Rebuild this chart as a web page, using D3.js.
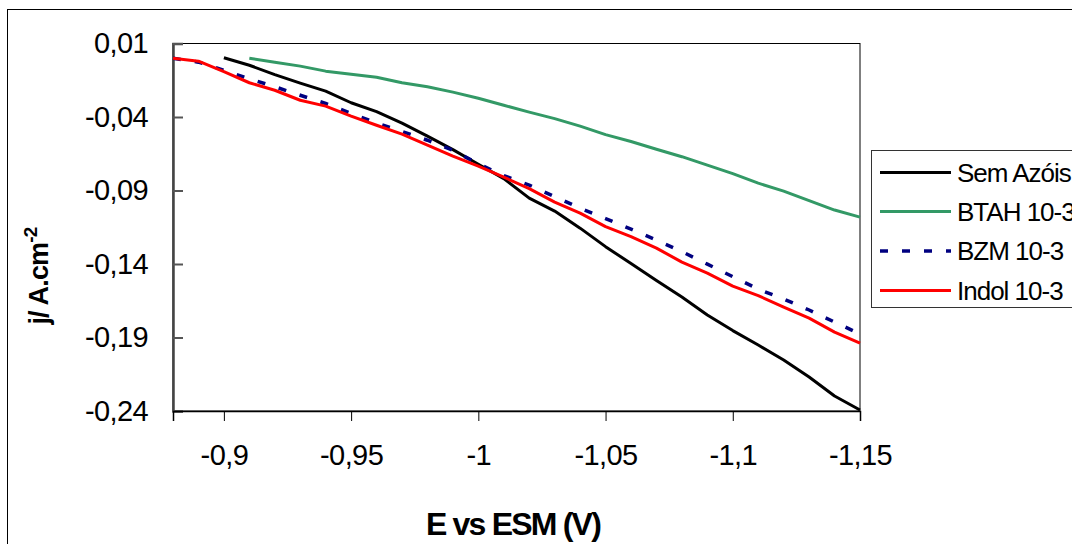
<!DOCTYPE html>
<html>
<head>
<meta charset="utf-8">
<script src="https://cdn.jsdelivr.net/npm/d3@7"></script>
<style>
  html, body { margin: 0; padding: 0; background: #fff; }
  svg { display: block; }
  text { font-family: "Liberation Sans", Arial, sans-serif; }
</style>
</head>
<body>
<svg id="chart" width="1072" height="544"></svg>
<script>
// ---- data ----
const potentials = [-0.88, -0.89, -0.90, -0.91, -0.92, -0.93, -0.94, -0.95, -0.96, -0.97,
  -0.98, -0.99, -1.00, -1.01, -1.02, -1.03, -1.04, -1.05, -1.06, -1.07,
  -1.08, -1.09, -1.10, -1.11, -1.12, -1.13, -1.14, -1.15];
const semAzois = [null, null, 0.0003, -0.0048, -0.0112, -0.0170, -0.0224, -0.0303, -0.0364, -0.0442,
  -0.0530, -0.0622, -0.0721, -0.0819, -0.0952, -0.1040, -0.1156, -0.1282, -0.1397, -0.1513,
  -0.1625, -0.1747, -0.1853, -0.1951, -0.2053, -0.2169, -0.2298, -0.2393];
const btah = [null, null, null, 0.0000, -0.0027, -0.0054, -0.0088, -0.0109, -0.0129, -0.0167,
  -0.0194, -0.0231, -0.0272, -0.0320, -0.0367, -0.0411, -0.0462, -0.0520, -0.0567, -0.0619,
  -0.0670, -0.0727, -0.0785, -0.0850, -0.0904, -0.0969, -0.1033, -0.1081];
const bzm = [0.0000, -0.0027, -0.0082, -0.0140, -0.0194, -0.0252, -0.0308, -0.0376, -0.0440, -0.0498,
  -0.0558, -0.0627, -0.0718, -0.0799, -0.0863, -0.0942, -0.1020, -0.1091, -0.1163, -0.1237,
  -0.1316, -0.1401, -0.1486, -0.1571, -0.1638, -0.1713, -0.1795, -0.1876];
const indol = [0.0000, -0.0020, -0.0092, -0.0167, -0.0218, -0.0286, -0.0326, -0.0394, -0.0456, -0.0517,
  -0.0591, -0.0666, -0.0734, -0.0809, -0.0887, -0.0979, -0.1054, -0.1146, -0.1214, -0.1292,
  -0.1387, -0.1462, -0.1550, -0.1615, -0.1693, -0.1768, -0.1863, -0.1938];
const seriesNames = ["Sem Azóis", "BTAH 10-3", "BZM 10-3", "Indol 10-3"];
const xTicks = [-0.9, -0.95, -1, -1.05, -1.1, -1.15];
const yTicks = [0.01, -0.04, -0.09, -0.14, -0.19, -0.24];
const xTitle = "E vs ESM (V)";

// ---- layout ----
const svg = d3.select("#chart");
const plot = { left: 173, right: 860, top: 43.5, bottom: 411 };
const x = d3.scaleLinear().domain([-0.88, -1.15]).range([plot.left, plot.right]);
const y = d3.scaleLinear().domain([0.01, -0.24]).range([plot.top, plot.bottom]);
const fmt = v => String(v).replace(".", ",");
const FONT = "'Liberation Sans', Arial, sans-serif";

// outer chart frame (extends beyond the visible area)
svg.append("rect").attr("x", 7.5).attr("y", 9.5).attr("width", 1100).attr("height", 600)
  .attr("fill", "#fff").attr("stroke", "#000").attr("stroke-width", 1);

// plot area border
svg.append("rect").attr("x", plot.left).attr("y", plot.top)
  .attr("width", plot.right - plot.left).attr("height", plot.bottom - plot.top)
  .attr("fill", "#fff").attr("stroke", "#000").attr("stroke-width", 1);

// axes
const yAxis = d3.axisLeft(y).tickValues(yTicks).tickFormat(fmt).tickSize(-10).tickPadding(25);
const gy = svg.append("g").attr("transform", `translate(${plot.left},0)`).call(yAxis);
gy.select(".domain").attr("stroke", "#444").attr("stroke-width", 2.5);
gy.selectAll(".tick line").attr("stroke", "#555").attr("stroke-width", 2);
gy.selectAll(".tick text").attr("font-size", 29).attr("fill", "#000")
  .attr("font-family", FONT).attr("letter-spacing", -0.6);

const xAxis = d3.axisBottom(x).tickValues(xTicks).tickFormat(fmt).tickSize(10).tickPadding(23);
const gx = svg.append("g").attr("transform", `translate(0,${plot.bottom})`).call(xAxis);
gx.select(".domain").attr("stroke", "#000").attr("stroke-width", 1.5);
gx.selectAll(".tick line").attr("stroke", "#000").attr("stroke-width", 1);
gx.selectAll(".tick text").attr("font-size", 29).attr("fill", "#000")
  .attr("font-family", FONT).attr("letter-spacing", -0.6);

// axis titles
svg.append("text").attr("x", 513).attr("y", 535).attr("text-anchor", "middle")
  .attr("font-size", 32).attr("font-weight", "bold").attr("letter-spacing", -1.8)
  .text(xTitle);
const yt = svg.append("text").attr("transform", "translate(48,276) rotate(-90)")
  .attr("text-anchor", "middle").attr("font-size", 27).attr("font-weight", "bold")
  .attr("letter-spacing", -0.8);
yt.append("tspan").text("j/ A.cm");
yt.append("tspan").attr("dy", -11).attr("font-size", 19).text("-2");

// series
const series = [
  { name: seriesNames[0], values: semAzois, color: "#000000", dash: null, width: 3 },
  { name: seriesNames[1], values: btah, color: "#339966", dash: null, width: 3 },
  { name: seriesNames[2], values: bzm, color: "#000080", dash: "8,14", width: 3.5 },
  { name: seriesNames[3], values: indol, color: "#ff0000", dash: null, width: 3 }
];
const line = d3.line().defined(d => d[1] !== null).x(d => x(d[0])).y(d => y(d[1]));
series.forEach(s => {
  svg.append("path")
    .datum(potentials.map((p, i) => [p, s.values[i]]))
    .attr("d", line).attr("fill", "none").attr("stroke", s.color)
    .attr("stroke-width", s.width).attr("stroke-linejoin", "round")
    .attr("stroke-dasharray", s.dash);
});

// legend
const lg = svg.append("g");
lg.append("rect").attr("x", 871.5).attr("y", 150.5).attr("width", 300).attr("height", 157)
  .attr("fill", "#fff").attr("stroke", "#333").attr("stroke-width", 1);
const rowY = [172.5, 211.5, 251, 290.5];
series.forEach((s, i) => {
  lg.append("line").attr("x1", 880).attr("x2", 951).attr("y1", rowY[i]).attr("y2", rowY[i])
    .attr("stroke", s.color).attr("stroke-width", s.width).attr("stroke-dasharray", s.dash);
  lg.append("text").attr("x", 957).attr("y", rowY[i]).attr("dy", "0.35em")
    .attr("font-size", 26).attr("letter-spacing", -1).text(s.name);
});
</script>
</body>
</html>
